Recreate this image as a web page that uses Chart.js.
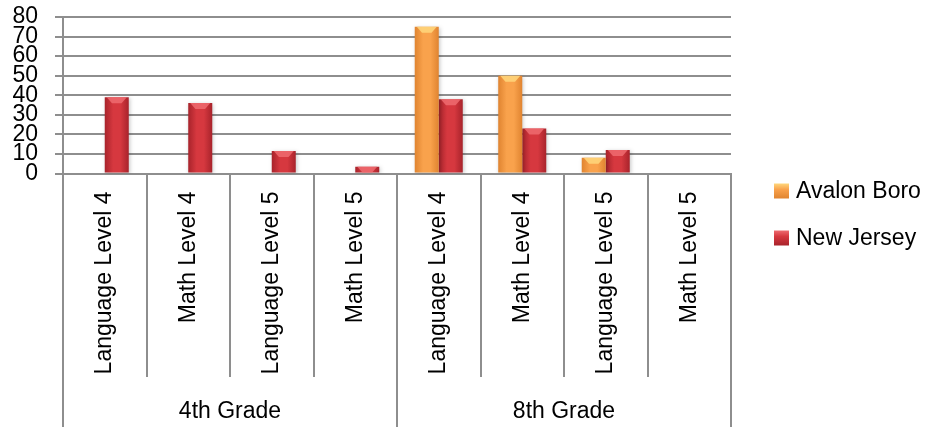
<!DOCTYPE html>
<html>
<head>
<meta charset="utf-8">
<script src="https://cdn.jsdelivr.net/npm/chart.js@4.4.1/dist/chart.umd.min.js"></script>
<style>
  html, body { margin: 0; padding: 0; background: #fff; }
  #wrap { width: 928px; height: 427px; }
</style>
</head>
<body>
<div id="wrap"><canvas id="chart"></canvas></div>
<script>
// values
const categories = ['Language Level 4', 'Math Level 4', 'Language Level 5', 'Math Level 5',
                    'Language Level 4', 'Math Level 4', 'Language Level 5', 'Math Level 5'];
const groups = ['4th Grade', '8th Grade'];
const groupSize = 4;
const avalonBoro = [0, 0, 0, 0, 75, 50, 8, 0];
const newJersey = [39, 36, 11.5, 3.5, 38, 23, 12, 0];
const seriesNames = ['Avalon Boro', 'New Jersey'];
const yMin = 0, yMax = 80, yStep = 10;

const FONT = 'Liberation Sans';
const GRID = '#8e8e8e';
const CAT_PCT = 0.575;
// [edge, centre, cap]
const shades = [
  ['#e08430', '#f9a24c', '#ffd77c'],
  ['#a8232b', '#d6383f', '#ee6b70']
];

// horizontal gradient across each bar, positioned from the x scale
function barFill(c) {
  const pal = shades[c.datasetIndex];
  const x = c.chart.scales.x;
  if (c.type !== 'data' || !x) return pal[1];
  const step = x.getPixelForValue(1) - x.getPixelForValue(0);
  const bw = step * CAT_PCT / 2;
  const left = x.getPixelForValue(c.dataIndex) + (c.datasetIndex - 1) * bw;
  if (!isFinite(left) || !isFinite(bw) || bw <= 0) return pal[1];
  const g = c.chart.ctx.createLinearGradient(left, 0, left + bw, 0);
  g.addColorStop(0, pal[0]);
  g.addColorStop(0.35, pal[1]);
  g.addColorStop(0.65, pal[1]);
  g.addColorStop(1, pal[0]);
  return g;
}

const barLook = {
  id: 'barLook',
  beforeDatasetsDraw(chart) {
    const ctx = chart.ctx;
    ctx.save();
    ctx.shadowColor = 'rgba(0,0,0,0.22)';
    ctx.shadowBlur = 4;
    ctx.shadowOffsetX = 1;
    ctx.shadowOffsetY = 1;
  },
  afterDatasetsDraw(chart) {
    const ctx = chart.ctx;
    ctx.restore();
    ctx.save();
    chart.data.datasets.forEach((ds, di) => {
      chart.getDatasetMeta(di).data.forEach(el => {
        const { x, y, width, base } = el.getProps(['x', 'y', 'width', 'base'], true);
        const h = base - y;
        if (h < 2) return;
        const l = x - width / 2, r = x + width / 2;
        const d = Math.min(6, h);
        ctx.fillStyle = shades[di][2];
        ctx.globalAlpha = 0.85;
        ctx.beginPath();
        ctx.moveTo(l + 2, y);
        ctx.lineTo(r - 2, y);
        ctx.lineTo(x + width * 0.2, y + d);
        ctx.lineTo(x - width * 0.2, y + d);
        ctx.closePath();
        ctx.fill();
      });
    });
    ctx.restore();
  }
};

const frame = {
  id: 'frame',
  afterDraw(chart) {
    const { ctx, chartArea } = chart;
    const x = chart.scales.x;
    const step = x.getPixelForValue(1) - x.getPixelForValue(0);
    const innerBottom = 377;
    const bottom = chart.height;
    ctx.save();
    ctx.strokeStyle = GRID;
    ctx.lineWidth = 2;
    for (let i = 0; i <= categories.length; i++) {
      const px = Math.round(x.getPixelForValue(0) + (i - 0.5) * step);
      ctx.beginPath();
      ctx.moveTo(px, chartArea.bottom);
      ctx.lineTo(px, i % groupSize === 0 ? bottom : innerBottom);
      ctx.stroke();
    }
    ctx.fillStyle = '#000';
    ctx.font = '23px "' + FONT + '"';
    ctx.textAlign = 'center';
    ctx.textBaseline = 'middle';
    groups.forEach((g, gi) => {
      const a = x.getPixelForValue(gi * groupSize);
      const b = x.getPixelForValue(gi * groupSize + groupSize - 1);
      ctx.fillText(g, (a + b) / 2, 412);
    });

    // legend
    const ly = [191, 238];
    ctx.textAlign = 'left';
    seriesNames.forEach((name, i) => {
      const bx = 774, by = ly[i] - 7.5;
      const g = ctx.createLinearGradient(0, by, 0, by + 15);
      g.addColorStop(0, shades[i][2]);
      g.addColorStop(0.4, shades[i][1]);
      g.addColorStop(1, shades[i][0]);
      ctx.fillStyle = g;
      ctx.fillRect(bx, by, 15, 15);
      ctx.fillStyle = '#000';
      ctx.fillText(name, 796, ly[i] + 1);
    });
    ctx.restore();
  }
};

new Chart(document.getElementById('chart'), {
  type: 'bar',
  data: {
    labels: categories,
    datasets: [
      { label: seriesNames[0], data: avalonBoro, backgroundColor: barFill },
      { label: seriesNames[1], data: newJersey, backgroundColor: barFill }
    ]
  },
  options: {
    responsive: true,
    maintainAspectRatio: false,
    animation: false,
    layout: { padding: { top: 17, right: 197, bottom: 0, left: 0 } },
    datasets: { bar: { categoryPercentage: CAT_PCT, barPercentage: 1.0, borderWidth: 0 } },
    plugins: {
      legend: { display: false },
      tooltip: { enabled: false }
    },
    scales: {
      x: {
        grid: { display: false, drawTicks: false },
        border: { display: true, color: GRID, width: 2 },
        ticks: {
          autoSkip: false,
          minRotation: 90,
          maxRotation: 90,
          padding: 18,
          color: '#000',
          font: { family: FONT, size: 23 }
        },
        afterFit(s) { s.height = 253.5; s.paddingLeft = 0; s.paddingRight = 0; }
      },
      y: {
        min: yMin,
        max: yMax,
        grid: { color: GRID, lineWidth: 2, tickLength: 8 },
        border: { display: true, color: GRID, width: 2 },
        ticks: {
          stepSize: yStep,
          autoSkip: false,
          padding: 17,
          color: '#000',
          font: { family: FONT, size: 23 }
        },
        afterFit(s) { s.width = 63; s.paddingTop = 0; s.paddingBottom = 0; }
      }
    }
  },
  plugins: [barLook, frame]
});
</script>
</body>
</html>
